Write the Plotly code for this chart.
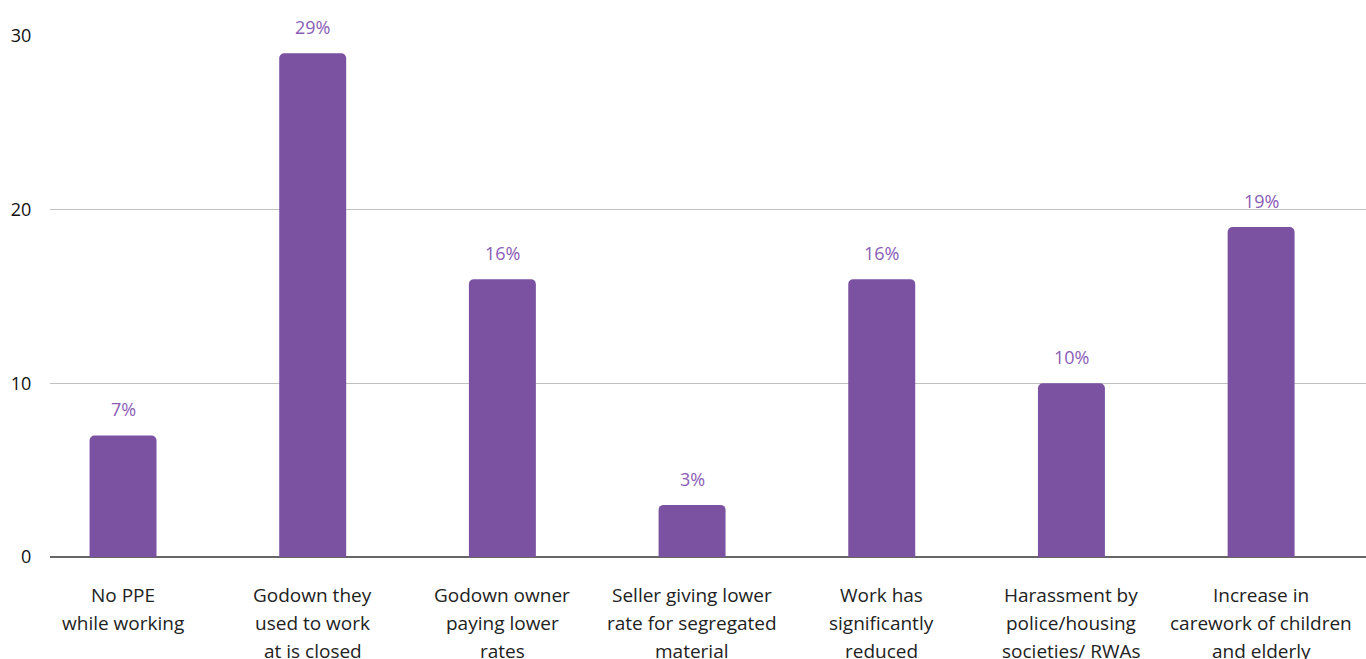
import plotly.graph_objects as go

categories = [
    "No PPE<br>while working",
    "Godown they<br>used to work<br>at is closed",
    "Godown owner<br>paying lower<br>rates",
    "Seller giving lower<br>rate for segregated<br>material",
    "Work has<br>significantly<br>reduced",
    "Harassment by<br>police/housing<br>societies/ RWAs",
    "Increase in<br>carework of children<br>and elderly",
]
values = [7, 29, 16, 3, 16, 10, 19]
y_ticks = [0, 10, 20, 30]

BAR = "#7B52A1"
LABEL = "#8A5DB7"
FONT = "Open Sans"

x_idx = list(range(len(categories)))

fig = go.Figure()
fig.add_trace(go.Bar(
    x=x_idx, y=values, width=0.353,
    marker=dict(color=BAR, line=dict(width=0), cornerradius=5),
    hoverinfo="skip",
))

for xi, v in zip(x_idx, values):
    fig.add_annotation(x=xi, y=v, text=f"{v}%", showarrow=False, yshift=26,
                       yanchor="middle", font=dict(family=FONT, size=18, color=LABEL))

# category labels, one annotation per line for the wider line spacing
for xi, cat in zip(x_idx, categories):
    for k, line in enumerate(cat.split("<br>")):
        fig.add_annotation(x=xi, y=0, text=line, showarrow=False,
                           yshift=-(38 + 28 * k), yanchor="middle",
                           font=dict(family=FONT, size=19, color="#222222"))

fig.update_layout(
    width=1366, height=659,
    margin=dict(l=50, r=0, t=36, b=102),
    plot_bgcolor="white", paper_bgcolor="white",
    showlegend=False,
    font=dict(family=FONT, size=18, color="#222222"),
    xaxis=dict(
        range=[-0.385, 6.553],
        tickmode="array", tickvals=x_idx, ticktext=[""] * len(x_idx),
        showgrid=False, zeroline=False, showline=False,
        showticklabels=False,
        fixedrange=True,
    ),
    yaxis=dict(
        range=[0, 30],
        tickmode="array", tickvals=y_ticks,
        showgrid=True, gridcolor="#C0C0C0", gridwidth=1,
        zeroline=True, zerolinecolor="#666666", zerolinewidth=2,
        showline=False,
        ticks="outside", ticklen=14, tickcolor="rgba(0,0,0,0)",
        tickfont=dict(family=FONT, size=18, color="#111111"),
        fixedrange=True,
    ),
)

fig.write_html("out.html", config={"displayModeBar": False})
